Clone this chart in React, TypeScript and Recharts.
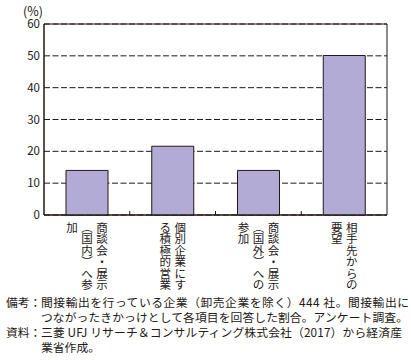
import React from 'react';
import { BarChart, Bar, XAxis, YAxis, CartesianGrid, ReferenceArea } from 'recharts';

const categories = [
  '商談会・展示（国内）へ参加',
  '個別企業にする積極的営業',
  '商談会・展示（国外）への参加',
  '相手先からの要望',
];
const shares = [14.0, 21.6, 14.0, 50.1];
const yTicks = [0, 10, 20, 30, 40, 50, 60];

const noteLabels = ['備考：', '資料：'];
const noteLines = [
  '間接輸出を行っている企業（卸売企業を除く）444 社。間接輸出に',
  'つながったきかっけとして各項目を回答した割合。アンケート調査。',
  '三菱 UFJ リサーチ＆コンサルティング株式会社（2017）から経済産',
  '業省作成。',
];

const data = categories.map((name, i) => ({ name, value: shares[i] }));

const FONT = '"Noto Sans CJK JP", "Noto Sans", sans-serif';
const INK = '#231815';

// vertical writing: swap brackets for their vertical forms, 6 chars per column
const VerticalTick = (props: any) => {
  const { x, y, payload, index, visibleTicksCount, width } = props;
  const half = payload && payload.offset ? payload.offset : width / visibleTicksCount / 2;
  const text = String(payload.value).replace(/（/g, '︵').replace(/）/g, '︶');
  const cols: string[] = [];
  for (let i = 0; i < text.length; i += 6) cols.push(text.slice(i, i + 6));
  const n = cols.length;
  return (
    <g>
      {index < visibleTicksCount - 1 && (
        <line x1={x + half} x2={x + half} y1={y - 4} y2={y} stroke={INK} strokeWidth={1} />
      )}
      {cols.map((col, j) => {
        const cx = x + ((n - 1) / 2 - j) * 15;
        return Array.from(col).map((ch, k) => (
          <text
            key={`${j}-${k}`}
            x={cx}
            y={y + 11.5 + k * 11.5}
            textAnchor="middle"
            dominantBaseline="central"
            fontSize={11.5}
            fill={INK}
            fontFamily={FONT}
          >
            {ch}
          </text>
        ));
      })}
    </g>
  );
};

export default function App() {
  return (
    <div style={{ position: 'absolute', left: 0, top: 0, width: 411, height: 360, background: '#fff', fontFamily: FONT }}>
      <BarChart
        width={411}
        height={295}
        data={data}
        margin={{ top: 24, right: 24, left: 0, bottom: 0 }}
        barSize={42}
      >
        <CartesianGrid vertical={false} stroke={INK} strokeDasharray="6 2.5" />
        <XAxis
          dataKey="name"
          height={80}
          axisLine={{ stroke: INK }}
          tickLine={false}
          tickSize={0}
          tickMargin={0}
          interval={0}
          tick={<VerticalTick />}
        />
        <YAxis
          width={44}
          domain={[0, 60]}
          ticks={yTicks}
          axisLine={{ stroke: INK }}
          tickLine={false}
          tickSize={0}
          tickMargin={4}
          tick={{ fill: INK, fontSize: 11.5, fontFamily: FONT }}
        />
        <Bar dataKey="value" fill="#b1abd5" stroke={INK} strokeWidth={1} isAnimationActive={false} />
        <ReferenceArea y1={0} y2={60} fill="none" stroke={INK} strokeWidth={1} ifOverflow="visible" />
      </BarChart>
      <svg
        width={411}
        height={360}
        style={{ position: 'absolute', left: 0, top: 0, pointerEvents: 'none' }}
        fontFamily={FONT}
      >
        <text x={43} y={10} textAnchor="end" dominantBaseline="central" fontSize={12.5} fill={INK}>
          (%)
        </text>
        <text x={6} y={301.5} dominantBaseline="central" fontSize={11.8} fill={INK}>{noteLabels[0]}</text>
        <text x={6} y={331.5} dominantBaseline="central" fontSize={11.8} fill={INK}>{noteLabels[1]}</text>
        <text x={41} y={301.5} dominantBaseline="central" fontSize={11.8} fill={INK} textLength={368} lengthAdjust="spacing">
          {noteLines[0]}
        </text>
        <text x={41} y={316.5} dominantBaseline="central" fontSize={11.8} fill={INK} textLength={367} lengthAdjust="spacing">
          {noteLines[1]}
        </text>
        <text x={41} y={331.5} dominantBaseline="central" fontSize={11.8} fill={INK} textLength={361} lengthAdjust="spacing">
          {noteLines[2]}
        </text>
        <text x={41} y={346.5} dominantBaseline="central" fontSize={11.8} fill={INK}>
          {noteLines[3]}
        </text>
      </svg>
    </div>
  );
}
